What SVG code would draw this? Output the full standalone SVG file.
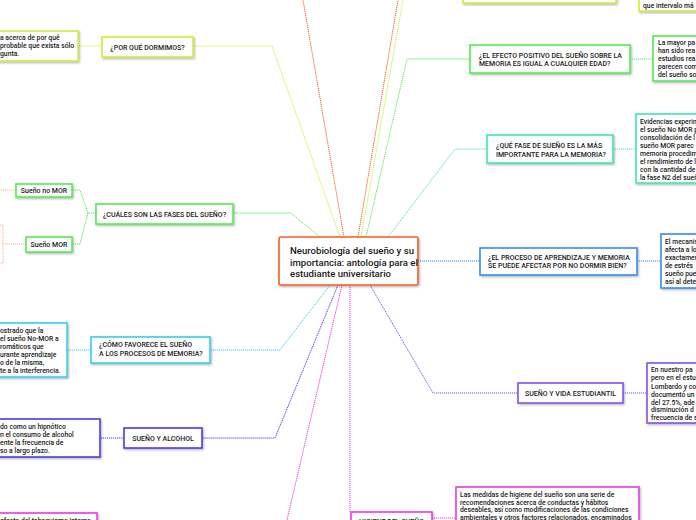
<svg xmlns="http://www.w3.org/2000/svg" width="696" height="520" viewBox="0 0 696 520">
<defs>
<filter id="sh" x="-10%" y="-10%" width="130%" height="140%">
<feDropShadow dx="1" dy="1.2" stdDeviation="0.8" flood-color="#000" flood-opacity="0.3"/>
</filter>
</defs>
<style>
text{font-family:Roboto,"Liberation Sans",sans-serif;fill:#1a1a1a}
.n{font-size:7px;font-weight:500}
.d{font-size:6.8px;font-weight:500}
.c{font-size:9.6px;font-weight:500}
.box{fill:#fff;stroke-width:1.6;filter:url(#sh)}
.ln{fill:none;stroke-width:1;stroke-dasharray:1.2 0.8}
.yl{stroke:#cdef3a}.or{stroke:#ff5a1f}.gr{stroke:#52ec52}.tl{stroke:#3ee6b4}.bl{stroke:#3a8cee}
.cy{stroke:#35cfee}.ind{stroke:#4a3cee}.pu{stroke:#7d52ee}.mg{stroke:#ee3ae6}.lo{stroke:#ffab8a}
</style>
<rect width="696" height="520" fill="#fff"/>
<g id="connectors">
<path class="ln or" d="M344 237 L303 0"/>
<path class="ln or" d="M358 237 L398 0"/>
<path class="ln yl" d="M361 237 L403 0"/>
<path class="ln yl" d="M340 237 L272 46 L193 46"/>
<path class="ln yl" d="M102 46 L78 46"/>
<path class="ln gr" d="M366 237 L407 59 L470 59"/>
<path class="ln gr" d="M630 59 L653 59"/>
<path class="ln tl" d="M388 237 L455 149 L487 149"/>
<path class="ln tl" d="M613 149 L636 149"/>
<path class="ln bl" d="M418 261 L480 261"/>
<path class="ln bl" d="M637 261 L661 261"/>
<path class="ln pu" d="M370 285 L433 393 L518 393"/>
<path class="ln pu" d="M623 393 L647 393"/>
<path class="ln mg" d="M350 285 L350 512"/>
<path class="ln mg" d="M432 518 L456 518"/>
<path class="ln mg" d="M342 285 L287 520"/>
<path class="ln ind" d="M338 285 L275 438 L202 438"/>
<path class="ln ind" d="M124 438 L100 438"/>
<path class="ln cy" d="M330 285 L280 350 L210 350"/>
<path class="ln cy" d="M91 350 L67 350"/>
<path class="ln gr" d="M320 237 L291 213 L233 213"/>
<path class="ln gr" d="M96 213 L88 213 L80 190 L72 190"/>
<path class="ln gr" d="M88 213 L80 244 L72 244"/>
<path class="ln lo" d="M16 190 L0 190"/>
<path class="ln lo" d="M26 244 L3 244 M0 225 L3 225 L3 263 L0 263"/>
</g>
<g id="center">
<rect class="box or" x="279" y="237" width="139" height="48" rx="2" stroke-width="2"/>
<text class="c" x="290" y="254">Neurobiología del sueño y su</text>
<text class="c" x="290" y="265.5">importancia: antología para el</text>
<text class="c" x="290" y="277">estudiante universitario</text>
</g>
<g id="top-orange-yellow">
<rect class="box yl" x="463" y="-20" width="153" height="23"/>
<rect class="box yl" x="639" y="-20" width="70" height="31"/>
<text class="d" x="643" y="7.5">que intervalo má</text>
</g>
<g id="porque">
<rect class="box yl" x="102" y="37" width="91" height="20"/>
<text class="n" x="147.5" y="49.5" text-anchor="middle">¿POR QUÉ DORMIMOS?</text>
</g>
<g id="porque-detail">
<rect class="box yl" x="-5" y="31" width="83" height="30"/>
<text class="d" x="0" y="39.5">a acerca de por qué</text>
<text class="d" x="0" y="47.5">probable que exista sólo</text>
<text class="d" x="0" y="55.5">gunta.</text>
</g>
<g id="fases">
<rect class="box gr" x="96" y="204" width="137" height="20"/>
<text class="n" x="164.5" y="216.5" text-anchor="middle">¿CUÁLES SON LAS FASES DEL SUEÑO?</text>
</g>
<g id="nomor">
<rect class="box gr" x="16" y="184" width="56" height="13"/>
<text class="n" x="44" y="193" text-anchor="middle">Sueño no MOR</text>
</g>
<g id="mor">
<rect class="box gr" x="26" y="237" width="46" height="15"/>
<text class="n" x="49" y="247" text-anchor="middle">Sueño MOR</text>
</g>
<g id="como">
<rect class="box cy" x="91" y="337" width="119" height="26"/>
<text class="n" x="99" y="347">¿CÓMO FAVORECE EL SUEÑO</text>
<text class="n" x="99" y="356">A LOS PROCESOS DE MEMORIA?</text>
</g>
<g id="como-detail">
<rect class="box cy" x="-5" y="323" width="72" height="54"/>
<text class="d" x="0" y="332.5">ostrado que la</text>
<text class="d" x="0" y="340.5">el sueño No-MOR a</text>
<text class="d" x="0" y="348.5">romáticos que</text>
<text class="d" x="0" y="356.5">urante aprendizaje</text>
<text class="d" x="0" y="364.5">o de la misma,</text>
<text class="d" x="0" y="372.5">te a la interferencia.</text>
</g>
<g id="alcohol">
<rect class="box ind" x="124" y="428" width="78" height="20"/>
<text class="n" x="163" y="440.5" text-anchor="middle">SUEÑO Y ALCOHOL</text>
</g>
<g id="alcohol-detail">
<rect class="box ind" x="-5" y="419" width="105" height="38"/>
<text class="d" x="0" y="428.5">do como un hipnótico</text>
<text class="d" x="0" y="436.5">n el consumo de alcohol</text>
<text class="d" x="0" y="444.5">ente la frecuencia de</text>
<text class="d" x="0" y="452.5">so a largo plazo.</text>
</g>
<g id="tabaquismo">
<rect class="box mg" x="-5" y="513" width="102" height="20"/>
<text class="d" x="0" y="523">efecto del tabaquismo interno</text>
</g>
<g id="higiene">
<rect class="box mg" x="351" y="512" width="81" height="20"/>
<text class="n" x="391.5" y="524" text-anchor="middle">HIGIENE DEL SUEÑO</text>
</g>
<g id="higiene-detail">
<rect class="box mg" x="456" y="487" width="183" height="40"/>
<text class="d" x="460" y="496.5">Las medidas de higiene del sueño son una serie de</text>
<text class="d" x="460" y="504.5">recomendaciones acerca de conductas y hábitos</text>
<text class="d" x="460" y="512">deseables, así como modificaciones de las condiciones</text>
<text class="d" x="460" y="519.5">ambientales y otros factores relacionados, encaminados</text>
</g>
<g id="vida">
<rect class="box pu" x="518" y="383" width="105" height="20"/>
<text class="n" x="570.5" y="395.5" text-anchor="middle">SUEÑO Y VIDA ESTUDIANTIL</text>
</g>
<g id="vida-detail">
<rect class="box pu" x="647" y="363" width="60" height="60"/>
<text class="d" x="651" y="372">En nuestro pa</text>
<text class="d" x="651" y="380">pero en el estu</text>
<text class="d" x="651" y="388.5">Lombardo y co</text>
<text class="d" x="651" y="396.5">documentó un</text>
<text class="d" x="651" y="404.5">del 27.5%, ade</text>
<text class="d" x="651" y="412">disminución d</text>
<text class="d" x="651" y="420">frecuencia de s</text>
</g>
<g id="proceso">
<rect class="box bl" x="480" y="248" width="157" height="27"/>
<text class="n" x="488" y="259.5">¿EL PROCESO DE APRENDIZAJE Y MEMORIA</text>
<text class="n" x="488" y="268">SE PUEDE AFECTAR POR NO DORMIR BIEN?</text>
</g>
<g id="proceso-detail">
<rect class="box bl" x="661" y="234" width="45" height="54"/>
<text class="d" x="665" y="243.5">El mecanis</text>
<text class="d" x="665" y="251.5">afecta a lo</text>
<text class="d" x="665" y="259.5">exactamen</text>
<text class="d" x="665" y="267.5">de estrés </text>
<text class="d" x="665" y="275.5">sueño pue</text>
<text class="d" x="665" y="283.5">así al dete</text>
</g>
<g id="fase">
<rect class="box tl" x="487" y="135" width="126" height="28"/>
<text class="n" x="496" y="148">¿QUÉ FASE DE SUEÑO ES LA MÁS</text>
<text class="n" x="496" y="156.5">IMPORTANTE PARA LA MEMORIA?</text>
</g>
<g id="fase-detail">
<rect class="box tl" x="636" y="114" width="70" height="69"/>
<text class="d" x="640" y="123.5">Evidencias experim</text>
<text class="d" x="640" y="131.5">el sueño No MOR p</text>
<text class="d" x="640" y="139.5">consolidación de l</text>
<text class="d" x="640" y="147.5">sueño MOR parec</text>
<text class="d" x="640" y="155.5"> memoria procedim</text>
<text class="d" x="640" y="163.5">el rendimiento de l</text>
<text class="d" x="640" y="171.5">con la cantidad de</text>
<text class="d" x="640" y="179.5">la fase N2 del sueñ</text>
</g>
<g id="efecto">
<rect class="box gr" x="470" y="45" width="160" height="28"/>
<text class="n" x="479" y="57.5">¿EL EFECTO POSITIVO DEL SUEÑO SOBRE LA</text>
<text class="n" x="479" y="66">MEMORIA ES IGUAL A CUALQUIER EDAD?</text>
</g>
<g id="efecto-detail">
<rect class="box gr" x="653" y="36" width="53" height="45"/>
<text class="d" x="658" y="45">La mayor pa</text>
<text class="d" x="658" y="53">han sido rea</text>
<text class="d" x="658" y="61">estudios rea</text>
<text class="d" x="658" y="69">parecen com</text>
<text class="d" x="658" y="77">del sueño so</text>
</g>
</svg>
